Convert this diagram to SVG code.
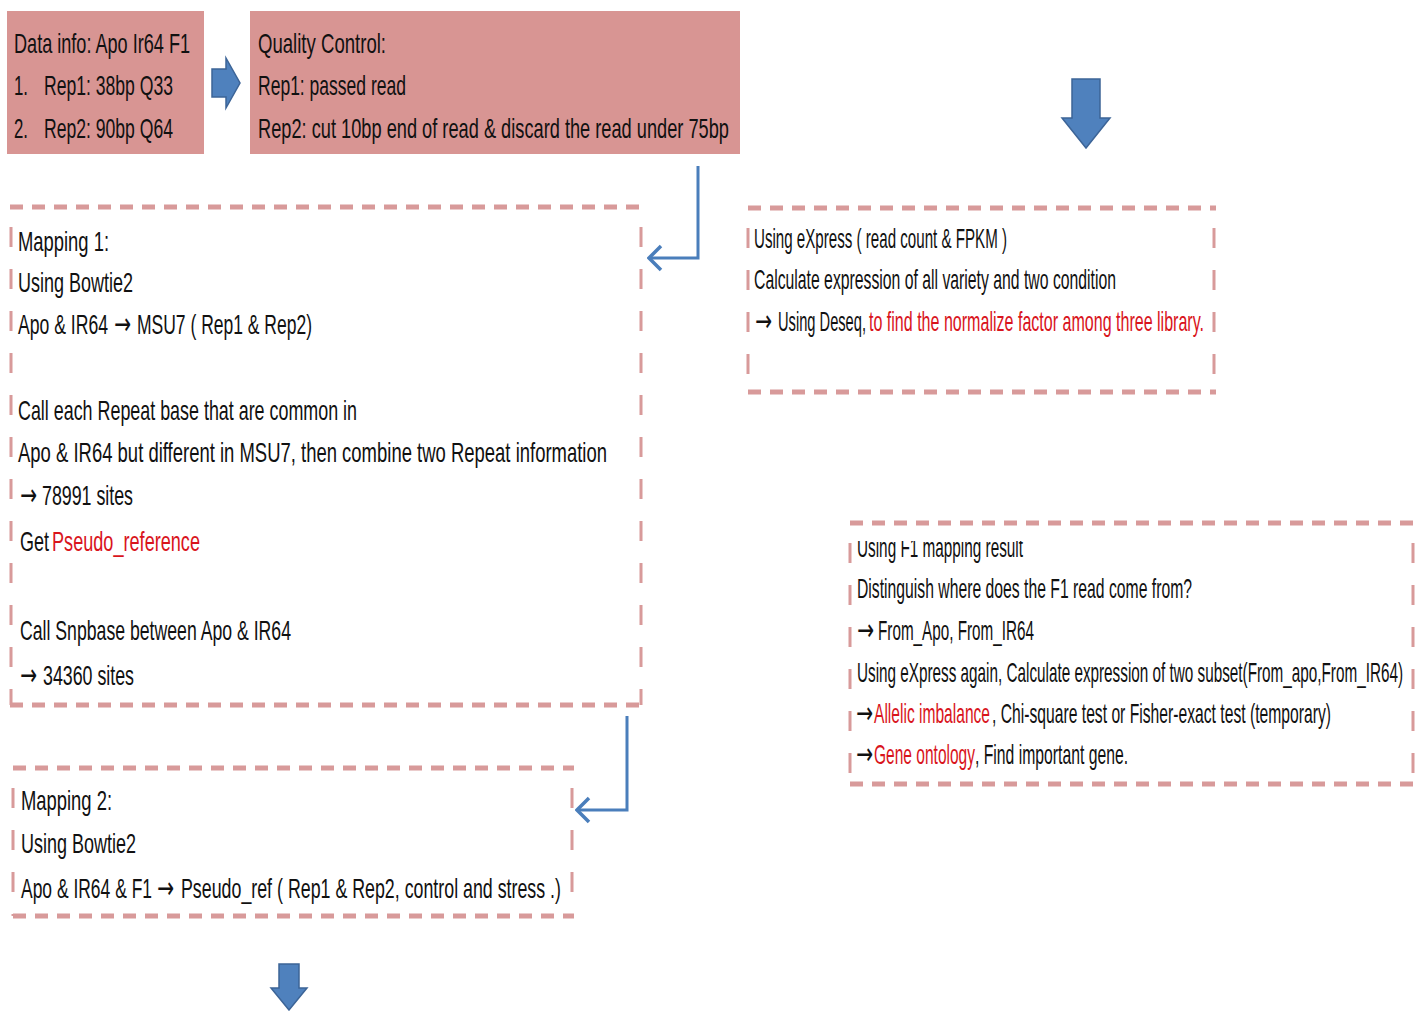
<svg xmlns="http://www.w3.org/2000/svg" width="1422" height="1011" viewBox="0 0 1422 1011">
<style>
text{font-family:"Liberation Sans Narrow","Liberation Sans",Arial,sans-serif;font-size:28px;fill:#111}
text.arr{font-family:"DejaVu Sans",sans-serif;font-size:30px}
.red{fill:#d9141c}
.solid{fill:#d89593}
.h{stroke:#d89a9a;stroke-width:5;stroke-dasharray:13 9;fill:none}
.v{stroke:#d89a9a;stroke-width:3;stroke-dasharray:20 22;stroke-dashoffset:22;fill:none}
.blk{fill:#4f81bd;stroke:#3c6497;stroke-width:1.5}
.con{stroke:#4a7ebb;stroke-width:3;fill:none}
</style>
<defs>
<marker id="chev" viewBox="0 0 16 28" refX="14" refY="14" markerWidth="16" markerHeight="28" markerUnits="userSpaceOnUse" orient="auto">
<path d="M2,2 L14,14 L2,26" fill="none" stroke="#4a7ebb" stroke-width="3.5"/>
</marker>
<clipPath id="clipTop"><rect x="850" y="541" width="570" height="260"/></clipPath>
</defs>
<rect width="1422" height="1011" fill="#ffffff"/>

<g id="data-info">
<rect class="solid" x="7" y="11" width="197" height="143"/>
<text x="14" y="53" textLength="176" lengthAdjust="spacingAndGlyphs">Data info: Apo Ir64 F1</text>
<text x="14" y="95" textLength="14" lengthAdjust="spacingAndGlyphs">1.</text>
<text x="44" y="95" textLength="129" lengthAdjust="spacingAndGlyphs">Rep1: 38bp Q33</text>
<text x="14" y="138" textLength="14" lengthAdjust="spacingAndGlyphs">2.</text>
<text x="44" y="138" textLength="129" lengthAdjust="spacingAndGlyphs">Rep2: 90bp Q64</text>
</g>

<g id="block-arrow-right">
<path class="blk" d="M212,69 L226,69 L226,58 L240,83 L226,108 L226,97 L212,97 Z"/>
</g>

<g id="quality-control">
<rect class="solid" x="250" y="11" width="490" height="143"/>
<text x="258" y="53" textLength="128" lengthAdjust="spacingAndGlyphs">Quality Control:</text>
<text x="258" y="95" textLength="148" lengthAdjust="spacingAndGlyphs">Rep1: passed read</text>
<text x="258" y="138" textLength="471" lengthAdjust="spacingAndGlyphs">Rep2: cut 10bp end of read &amp; discard the read under 75bp</text>
</g>

<g id="block-arrow-down-top">
<path class="blk" d="M1072,79 L1100,79 L1100,118 L1110,118 L1086,148 L1062,118 L1072,118 Z"/>
</g>

<g id="mapping1">
<line class="h" x1="10" y1="207" x2="643" y2="207"/>
<line class="h" x1="10" y1="705" x2="643" y2="705"/>
<line class="v" x1="11" y1="207" x2="11" y2="705"/>
<line class="v" x1="641" y1="207" x2="641" y2="705"/>
<text x="18" y="251" textLength="91" lengthAdjust="spacingAndGlyphs">Mapping 1:</text>
<text x="18" y="292" textLength="115" lengthAdjust="spacingAndGlyphs">Using Bowtie2</text>
<text x="18" y="334" textLength="90" lengthAdjust="spacingAndGlyphs">Apo &amp; IR64</text>
<text class="arr" x="114" y="334" textLength="17" lengthAdjust="spacingAndGlyphs">→</text>
<text x="137" y="334" textLength="175" lengthAdjust="spacingAndGlyphs">MSU7 ( Rep1 &amp; Rep2)</text>
<text x="18" y="420" textLength="339" lengthAdjust="spacingAndGlyphs">Call each Repeat base that are common in</text>
<text x="18" y="462" textLength="589" lengthAdjust="spacingAndGlyphs">Apo &amp; IR64 but different in MSU7, then combine two Repeat information</text>
<text class="arr" x="20" y="505" textLength="17" lengthAdjust="spacingAndGlyphs">→</text>
<text x="42" y="505" textLength="91" lengthAdjust="spacingAndGlyphs">78991 sites</text>
<text x="20" y="551" textLength="29" lengthAdjust="spacingAndGlyphs">Get</text>
<text class="red" x="52" y="551" textLength="148" lengthAdjust="spacingAndGlyphs">Pseudo_reference</text>
<text x="20" y="640" textLength="271" lengthAdjust="spacingAndGlyphs">Call Snpbase between Apo &amp; IR64</text>
<text class="arr" x="20" y="685" textLength="17" lengthAdjust="spacingAndGlyphs">→</text>
<text x="43" y="685" textLength="91" lengthAdjust="spacingAndGlyphs">34360 sites</text>
</g>

<g id="express">
<line class="h" x1="748" y1="208" x2="1216" y2="208"/>
<line class="h" x1="748" y1="392" x2="1216" y2="392"/>
<line class="v" x1="748" y1="208" x2="748" y2="392"/>
<line class="v" x1="1214" y1="208" x2="1214" y2="392"/>
<text x="754" y="248" textLength="253" lengthAdjust="spacingAndGlyphs">Using eXpress ( read count &amp; FPKM )</text>
<text x="754" y="289" textLength="362" lengthAdjust="spacingAndGlyphs">Calculate expression of all variety and two condition</text>
<text class="arr" x="755" y="331" textLength="17" lengthAdjust="spacingAndGlyphs">→</text>
<text x="778" y="331" textLength="88" lengthAdjust="spacingAndGlyphs">Using Deseq,</text>
<text class="red" x="869" y="331" textLength="335" lengthAdjust="spacingAndGlyphs">to find the normalize factor among three library.</text>
</g>

<g id="f1-result">
<line class="h" x1="850" y1="523" x2="1415" y2="523"/>
<line class="h" x1="850" y1="784" x2="1415" y2="784"/>
<line class="v" x1="850" y1="523" x2="850" y2="784"/>
<line class="v" x1="1413" y1="523" x2="1413" y2="784"/>
<text x="857" y="557" textLength="166" lengthAdjust="spacingAndGlyphs" clip-path="url(#clipTop)">Using F1 mapping result</text>
<text x="857" y="598" textLength="335" lengthAdjust="spacingAndGlyphs">Distinguish where does the F1 read  come from?</text>
<text class="arr" x="857" y="640" textLength="17" lengthAdjust="spacingAndGlyphs">→</text>
<text x="878" y="640" textLength="156" lengthAdjust="spacingAndGlyphs">From_Apo, From_IR64</text>
<text x="857" y="682" textLength="546" lengthAdjust="spacingAndGlyphs">Using eXpress again, Calculate expression of two subset(From_apo,From_IR64)</text>
<text class="arr" x="856" y="723" textLength="17" lengthAdjust="spacingAndGlyphs">→</text>
<text class="red" x="874" y="723" textLength="116" lengthAdjust="spacingAndGlyphs">Allelic imbalance</text>
<text x="992" y="723" textLength="339" lengthAdjust="spacingAndGlyphs">, Chi-square test or Fisher-exact test (temporary)</text>
<text class="arr" x="856" y="764" textLength="17" lengthAdjust="spacingAndGlyphs">→</text>
<text class="red" x="874" y="764" textLength="101" lengthAdjust="spacingAndGlyphs">Gene ontology</text>
<text x="975" y="764" textLength="153" lengthAdjust="spacingAndGlyphs">, Find important gene.</text>
</g>

<g id="mapping2">
<line class="h" x1="13" y1="768" x2="574" y2="768"/>
<line class="h" x1="13" y1="916" x2="574" y2="916"/>
<line class="v" x1="13" y1="768" x2="13" y2="916"/>
<line class="v" x1="572" y1="768" x2="572" y2="916"/>
<text x="21" y="810" textLength="91" lengthAdjust="spacingAndGlyphs">Mapping 2:</text>
<text x="21" y="853" textLength="115" lengthAdjust="spacingAndGlyphs">Using Bowtie2</text>
<text x="21" y="898" textLength="131" lengthAdjust="spacingAndGlyphs">Apo &amp; IR64 &amp; F1</text>
<text class="arr" x="157" y="898" textLength="17" lengthAdjust="spacingAndGlyphs">→</text>
<text x="181" y="898" textLength="380" lengthAdjust="spacingAndGlyphs">Pseudo_ref ( Rep1 &amp; Rep2, control and stress .)</text>
</g>

<g id="block-arrow-down-bottom">
<path class="blk" d="M279,964 L299,964 L299,988 L307,988 L289,1010 L271,988 L279,988 Z"/>
</g>

<g id="connectors">
<polyline class="con" points="698,166 698,258 649,258" marker-end="url(#chev)"/>
<polyline class="con" points="627,716 627,810 577,810" marker-end="url(#chev)"/>
</g>
</svg>
